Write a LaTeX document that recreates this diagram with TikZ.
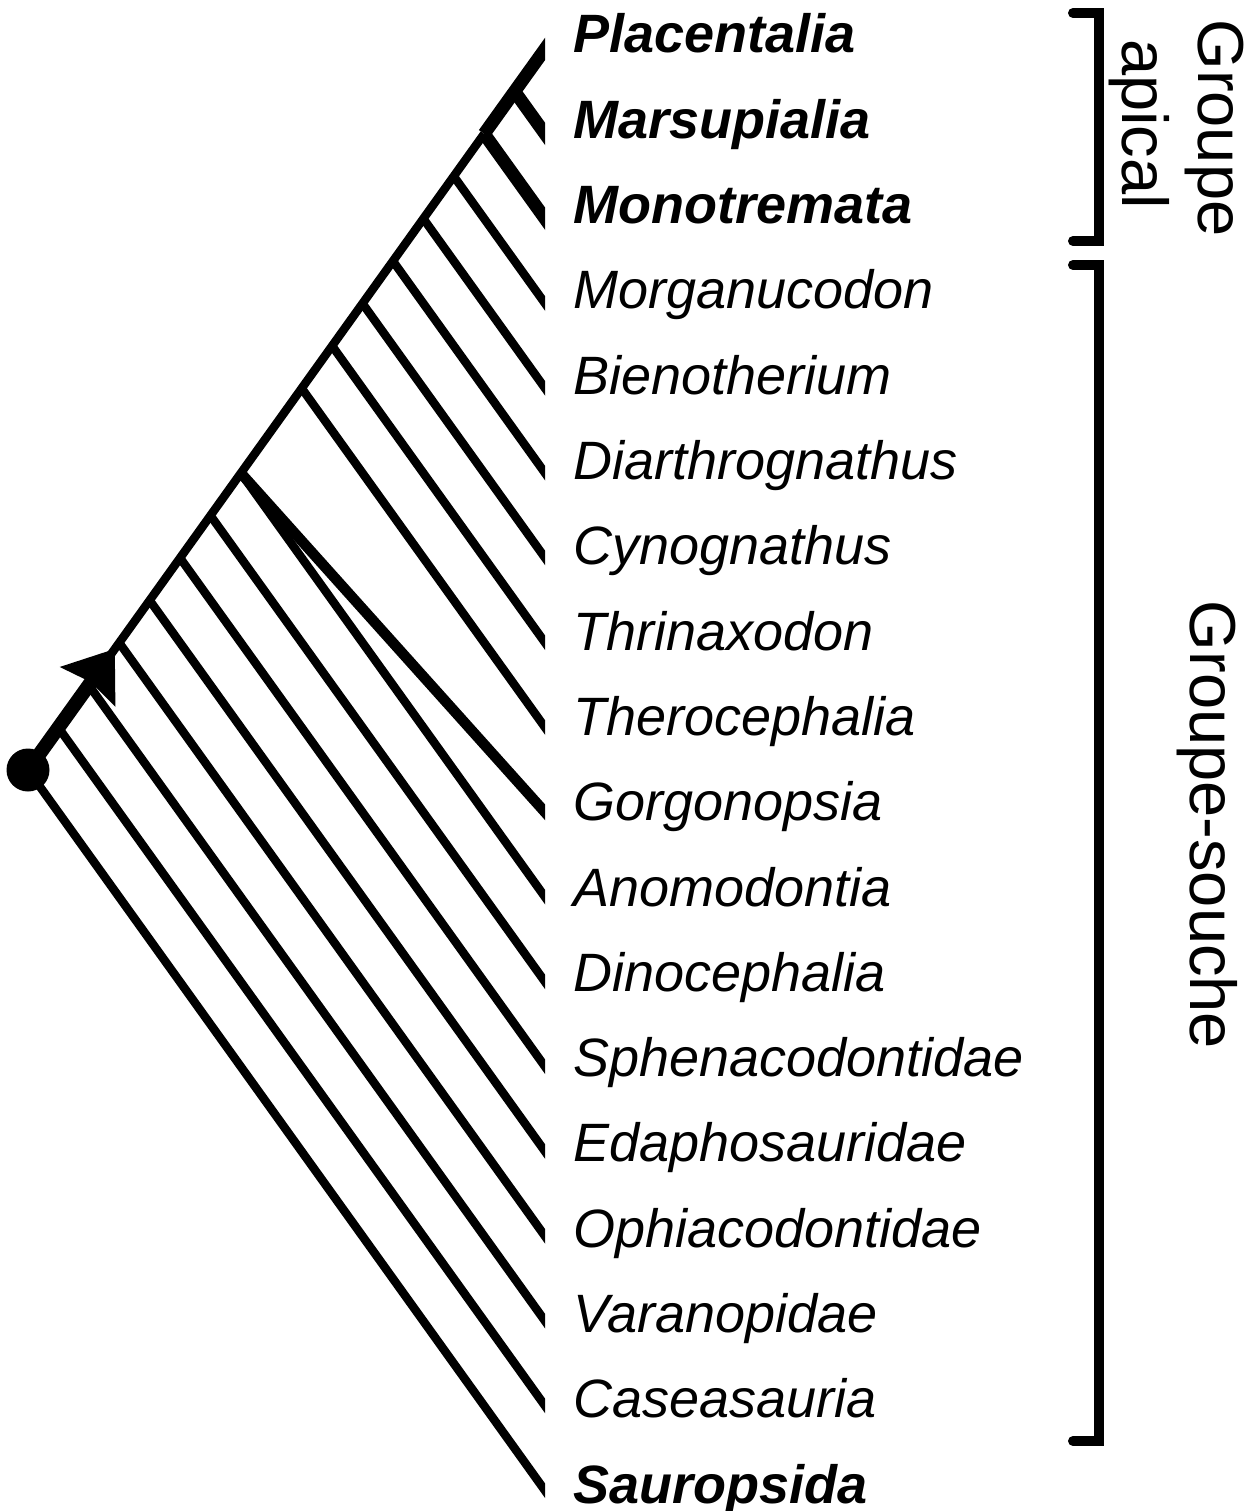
\documentclass[tikz,border=0pt]{standalone}
\usepackage{fontspec}
\setmainfont{Liberation Sans}
\usetikzlibrary{arrows.meta,calc}
\begin{document}
\begin{tikzpicture}[x=1pt,y=-1pt,
  branch/.style={line width=8.5pt,line cap=butt,shorten >=-20pt},
  gorgo/.style={line width=10.5pt,line cap=butt,shorten >=-20pt},
  crown/.style={line width=13pt,line cap=butt,shorten >=-25pt},
  spine/.style={line width=8.5pt,line cap=butt},
  stem/.style={line width=14pt,line cap=butt,-{Stealth[length=46pt,width=66pt,inset=5pt]}},
  taxon/.style={font=\fontsize{54}{60}\selectfont\itshape,inner sep=0pt,anchor=base west},
  btaxon/.style={taxon,font=\fontsize{54}{60}\selectfont\itshape\bfseries},
  side/.style={font=\fontsize{65}{70}\selectfont,inner sep=0pt,rotate=-90,anchor=base},
  bracket/.style={line width=10pt,line cap=round,line join=miter}
]
\useasboundingbox (0,0) rectangle (1251,1511);
% skeleton
\coordinate (root) at (28,770);
\coordinate (top) at (545,49);
\foreach \i in {0,...,17}{
  \coordinate (t\i) at (545,{49+84.8*\i});
  \coordinate (n\i) at ($(root)!{(17-\i)/17}!(top)$);
}
\coordinate (stemtip) at ($(root)!0.168!(top)$);
\begin{scope}
  \clip (0,0) rectangle (545,1511);
  \draw[spine] (root) -- (n2);
  \draw[crown] (n2) -- (top);
  \draw[crown] (n1) -- (t1);
  \draw[crown] (n2) -- (t2);
  \foreach \i in {3,...,8,10,11,12,13,14,15,16,17}{
    \draw[branch] (n\i) -- (t\i);
  }
  \draw[gorgo] (n10) -- (t9);
\end{scope}
\draw[stem] (root) -- (stemtip);
\fill (root) circle[radius=21.5pt];
% labels
\node[btaxon] (l0) at (573,53) {Placentalia};
\node[btaxon] (l1) at (573,{53+85.3*1}) {Marsupialia};
\node[btaxon] (l2) at (573,{53+85.3*2}) {Monotremata};
\foreach \nm [count=\k from 3] in {Morganucodon,Bienotherium,Diarthrognathus,Cynognathus,Thrinaxodon,Therocephalia,Gorgonopsia,Anomodontia,Dinocephalia,Sphenacodontidae,Edaphosauridae,Ophiacodontidae,Varanopidae,Caseasauria}{
  \node[taxon] (l\k) at (573,{53+85.3*\k}) {\nm};
}
\node[btaxon] (l17) at (573,{53+85.3*17}) {Sauropsida};
% brackets
\coordinate (ba1) at (1073,13);
\coordinate (ba2) at (1099,13);
\coordinate (ba3) at (1099,241);
\coordinate (ba4) at (1073,241);
\draw[bracket] (ba1) -- (ba2) -- (ba3) -- (ba4);
\coordinate (bs1) at (1073,265);
\coordinate (bs2) at (1099,265);
\coordinate (bs3) at (1099,1441);
\coordinate (bs4) at (1073,1441);
\draw[bracket] (bs1) -- (bs2) -- (bs3) -- (bs4);
\node[side] (ga1) at (1198,128) {Groupe};
\node[side] (ga2) at (1122,124) {apical};
\node[side] (gs) at (1190,825) {Groupe-souche};
\end{tikzpicture}
\end{document}
